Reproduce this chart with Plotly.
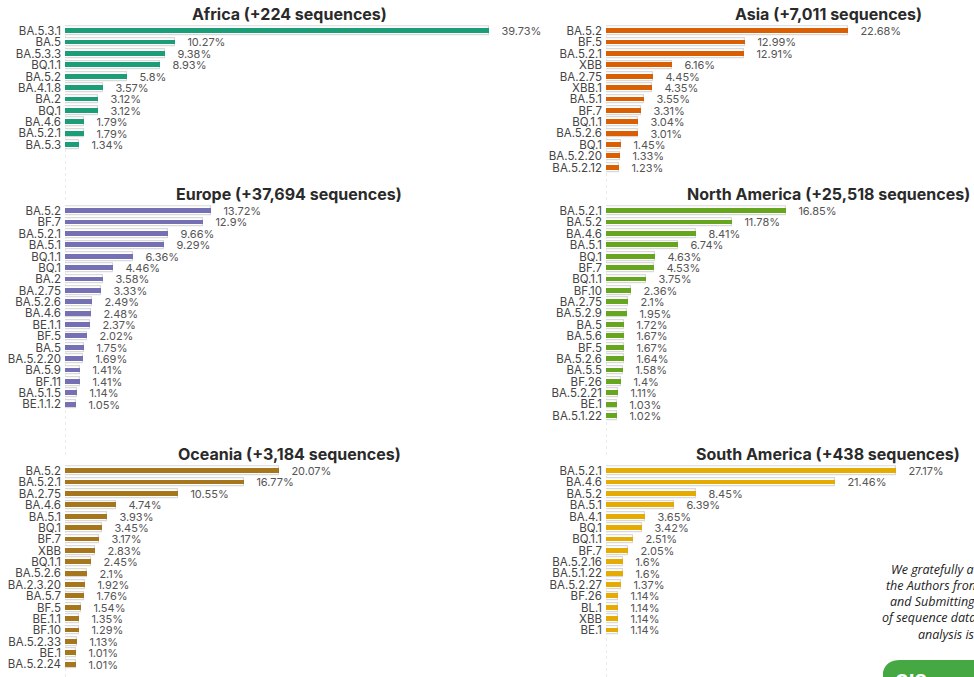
import plotly.graph_objects as go

# region titles
africa_title = "Africa (+224 sequences)"
asia_title = "Asia (+7,011 sequences)"
europe_title = "Europe (+37,694 sequences)"
namerica_title = "North America (+25,518 sequences)"
oceania_title = "Oceania (+3,184 sequences)"
samerica_title = "South America (+438 sequences)"

africa_lineages = ["BA.5.3.1", "BA.5", "BA.5.3.3", "BQ.1.1", "BA.5.2", "BA.4.1.8",
                   "BA.2", "BQ.1", "BA.4.6", "BA.5.2.1", "BA.5.3"]
africa_pct = [39.73, 10.27, 9.38, 8.93, 5.8, 3.57, 3.12, 3.12, 1.79, 1.79, 1.34]

asia_lineages = ["BA.5.2", "BF.5", "BA.5.2.1", "XBB", "BA.2.75", "XBB.1", "BA.5.1",
                 "BF.7", "BQ.1.1", "BA.5.2.6", "BQ.1", "BA.5.2.20", "BA.5.2.12"]
asia_pct = [22.68, 12.99, 12.91, 6.16, 4.45, 4.35, 3.55, 3.31, 3.04, 3.01, 1.45, 1.33, 1.23]

europe_lineages = ["BA.5.2", "BF.7", "BA.5.2.1", "BA.5.1", "BQ.1.1", "BQ.1", "BA.2",
                   "BA.2.75", "BA.5.2.6", "BA.4.6", "BE.1.1", "BF.5", "BA.5",
                   "BA.5.2.20", "BA.5.9", "BF.11", "BA.5.1.5", "BE.1.1.2"]
europe_pct = [13.72, 12.9, 9.66, 9.29, 6.36, 4.46, 3.58, 3.33, 2.49, 2.48, 2.37, 2.02,
              1.75, 1.69, 1.41, 1.41, 1.14, 1.05]

namerica_lineages = ["BA.5.2.1", "BA.5.2", "BA.4.6", "BA.5.1", "BQ.1", "BF.7", "BQ.1.1",
                     "BF.10", "BA.2.75", "BA.5.2.9", "BA.5", "BA.5.6", "BF.5", "BA.5.2.6",
                     "BA.5.5", "BF.26", "BA.5.2.21", "BE.1", "BA.5.1.22"]
namerica_pct = [16.85, 11.78, 8.41, 6.74, 4.63, 4.53, 3.75, 2.36, 2.1, 1.95, 1.72, 1.67,
                1.67, 1.64, 1.58, 1.4, 1.11, 1.03, 1.02]

oceania_lineages = ["BA.5.2", "BA.5.2.1", "BA.2.75", "BA.4.6", "BA.5.1", "BQ.1", "BF.7",
                    "XBB", "BQ.1.1", "BA.5.2.6", "BA.2.3.20", "BA.5.7", "BF.5", "BE.1.1",
                    "BF.10", "BA.5.2.33", "BE.1", "BA.5.2.24"]
oceania_pct = [20.07, 16.77, 10.55, 4.74, 3.93, 3.45, 3.17, 2.83, 2.45, 2.1, 1.92, 1.76,
               1.54, 1.35, 1.29, 1.13, 1.01, 1.01]

samerica_lineages = ["BA.5.2.1", "BA.4.6", "BA.5.2", "BA.5.1", "BA.4.1", "BQ.1", "BQ.1.1",
                     "BF.7", "BA.5.2.16", "BA.5.1.22", "BA.5.2.27", "BF.26", "BL.1", "XBB",
                     "BE.1"]
samerica_pct = [27.17, 21.46, 8.45, 6.39, 3.65, 3.42, 2.51, 2.05, 1.6, 1.6, 1.37, 1.14,
                1.14, 1.14, 1.14]

credit_lines = ["We gratefully a", "the Authors fron", "and Submitting",
                "of sequence data", "analysis is"]

W, H = 974, 677
PX_PER_PCT = 10.67
ROW = 11.38
FONT = "Inter, Roboto, sans-serif"


def fx(px):
    return px / W


def fy(px):
    return 1 - px / H


# (title, lineages, values, colour, left px, right px, top px, bottom px)
panels = [
    (africa_title, africa_lineages, africa_pct, "#1b9e77", 65, 545, 25.3, 200),
    (asia_title, asia_lineages, asia_pct, "#d95f02", 606, 974, 25.3, 200),
    (europe_title, europe_lineages, europe_pct, "#7570b3", 65, 545, 205.3, 455),
    (namerica_title, namerica_lineages, namerica_pct, "#66a61e", 606, 974, 205.3, 455),
    (oceania_title, oceania_lineages, oceania_pct, "#a6761d", 65, 545, 465.3, 677),
    (samerica_title, samerica_lineages, samerica_pct, "#e6ab02", 606, 974, 465.3, 677),
]

fig = go.Figure()
layout = dict(shapes=[], annotations=[])

for i, (title, labels, vals, colour, x0, x1, y0, y1) in enumerate(panels, start=1):
    xa = "x" if i == 1 else f"x{i}"
    ya = "y" if i == 1 else f"y{i}"
    slots = (y1 - y0) / ROW

    # light outline box behind each bar
    fig.add_trace(go.Bar(
        x=vals, y=labels, orientation="h", xaxis=xa, yaxis=ya,
        width=0.76, marker=dict(color="white", line=dict(color="#d9d9d9", width=1.2)),
        hoverinfo="skip", showlegend=False,
    ))
    fig.add_trace(go.Bar(
        x=vals, y=labels, orientation="h", xaxis=xa, yaxis=ya,
        width=0.42, marker=dict(color=colour, line=dict(width=0)),
        text=[f"&nbsp;&nbsp;&nbsp;&nbsp;{v}%" for v in vals],
        textposition="outside", cliponaxis=False, constraintext="none",
        textfont=dict(family=FONT, size=11, color="#555555"),
        showlegend=False,
    ))

    layout["xaxis" if i == 1 else f"xaxis{i}"] = dict(
        domain=[fx(x0), fx(x1)], range=[0, (x1 - x0) / PX_PER_PCT],
        anchor=ya, visible=False, fixedrange=True,
    )
    layout["yaxis" if i == 1 else f"yaxis{i}"] = dict(
        domain=[fy(y1), fy(y0)], anchor=xa, type="category",
        categoryorder="array", categoryarray=labels,
        tickmode="array", tickvals=labels, ticktext=labels,
        range=[slots - 0.5, -0.5], showgrid=False, zeroline=False,
        ticks="", ticklen=0, showline=False, ticklabelstandoff=3,
        tickfont=dict(family=FONT, size=11.5, color="#444444"),
    )
    layout["shapes"].append(dict(
        type="line", xref=xa, yref=f"{ya} domain", x0=0, x1=0, y0=0, y1=1,
        line=dict(color="#d8d8d8", width=1, dash="dot"), layer="below",
    ))
    centre = 289 if x0 < 300 else 828
    layout["annotations"].append(dict(
        text=f"<b>{title}</b>", xref="paper", yref="paper",
        x=fx(centre), y=fy(y0 - 11.5), xanchor="center", yanchor="middle",
        showarrow=False, font=dict(family=FONT, size=16, color="#2a2a2a"),
    ))

# acknowledgement text, cut at the right edge
credit_x = [889, 884, 888, 880, 916]
credit_y = [569, 585, 601, 617, 634]
for txt, cx, cy in zip(credit_lines, credit_x, credit_y):
    layout["annotations"].append(dict(
        text=f"<i>{txt}</i>", xref="paper", yref="paper", x=fx(cx), y=fy(cy),
        xanchor="left", yanchor="middle", showarrow=False,
        font=dict(family="Open Sans, sans-serif", size=12.5, color="#222222"),
    ))

# partial green logo in the corner
layout["shapes"].append(dict(
    type="path", xref="paper", yref="paper",
    path=(f"M {fx(883)} {fy(680)} L {fx(883)} {fy(672)} "
          f"Q {fx(886)} {fy(660)} {fx(900)} {fy(660)} L {fx(980)} {fy(660)} "
          f"L {fx(980)} {fy(680)} Z"),
    fillcolor="#45a843", line=dict(width=0),
))
layout["annotations"].append(dict(
    text="<b>GIS</b>", xref="paper", yref="paper", x=fx(893), y=fy(668),
    xanchor="left", yanchor="top", showarrow=False,
    font=dict(family="Roboto, sans-serif", size=20, color="white"),
))

fig.update_layout(
    **layout,
    width=W, height=H,
    margin=dict(l=0, r=0, t=0, b=0),
    barmode="overlay", bargap=0,
    plot_bgcolor="white", paper_bgcolor="white",
)

fig.write_html("out.html", config={"displayModeBar": False},
               post_script="document.body.style.margin = '0';")
